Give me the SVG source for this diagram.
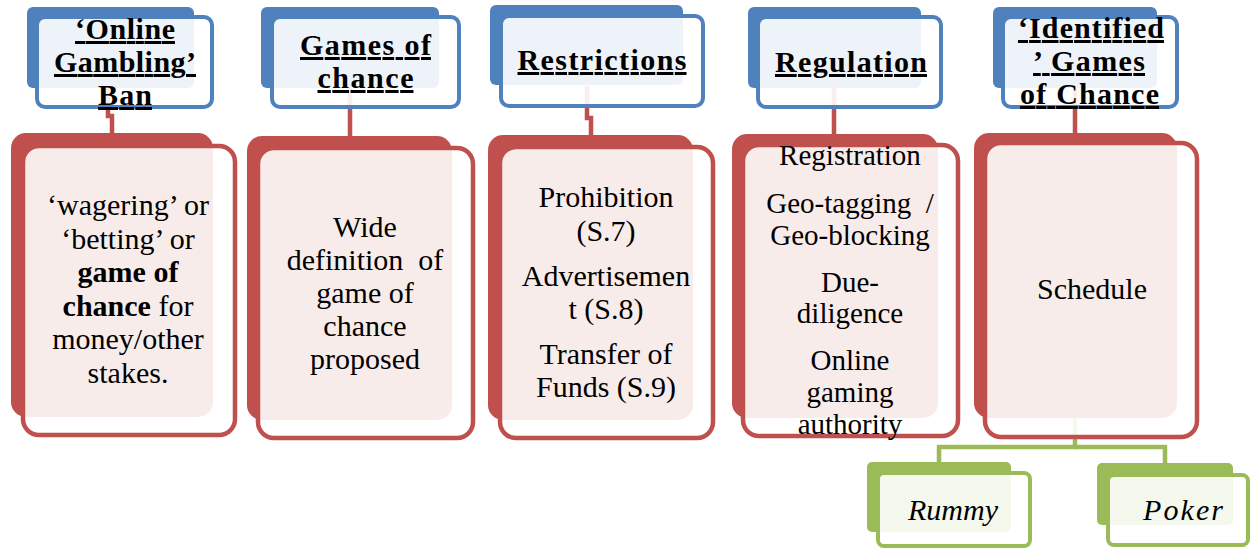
<svg xmlns="http://www.w3.org/2000/svg" width="1250" height="548" viewBox="0 0 1250 548" font-family="Liberation Serif, serif">
<style>
.hb{fill:#4F81BD}
.hf{fill:#fff;fill-opacity:.9;stroke:#4F81BD;stroke-width:4}
.bb{fill:#C0504D}
.bf{fill:#fff;fill-opacity:.89;stroke:#C0504D;stroke-width:4.5}
.gb{fill:#9BBB59}
.gf{fill:#fff;fill-opacity:.89;stroke:#9BBB59;stroke-width:4}
text{fill:#000;text-anchor:middle}
.ht{font-size:30px;font-weight:bold;text-decoration:underline}
.bt{font-size:30px}
.b4{font-size:29px}
.it{font-style:italic}
.bold{font-weight:bold}
.red{fill:none;stroke:#C0504D;stroke-width:4.5}
.grn{fill:none;stroke:#9BBB59;stroke-width:4.5}
</style>
<g id="connectors">
<path class="red" d="M108,88 V116 H112 V136"/>
<path class="red" d="M350,88 V138"/>
<path class="red" d="M587,86 V118 H591 V137"/>
<path class="red" d="M834,88 V136"/>
<path class="red" d="M1075,88 V135"/>
<path class="grn" d="M1075,418 V447 H939 V464"/>
<path class="grn" d="M1075,447 H1165 V465"/>
</g>
<g id="h1">
<rect class="hb" x="27" y="7" width="167" height="81" rx="6"/>
<rect class="hf" x="37" y="17" width="175" height="90" rx="8"/>
<text class="ht" x="125" y="39" textLength="100" lengthAdjust="spacing">‘Online</text>
<text class="ht" x="125" y="72" textLength="142" lengthAdjust="spacing">Gambling’</text>
<text class="ht" x="125" y="105" textLength="54" lengthAdjust="spacing">Ban</text>
</g>
<g id="h2">
<rect class="hb" x="261" y="7" width="178" height="81" rx="6"/>
<rect class="hf" x="272" y="17" width="187" height="90" rx="8"/>
<text class="ht" x="365.5" y="55" textLength="131" lengthAdjust="spacing">Games of</text>
<text class="ht" x="365.5" y="88" textLength="96" lengthAdjust="spacing">chance</text>
</g>
<g id="h3">
<rect class="hb" x="490" y="5" width="193" height="80" rx="6"/>
<rect class="hf" x="501" y="16" width="202" height="90" rx="8"/>
<text class="ht" x="602" y="70" textLength="169" lengthAdjust="spacing">Restrictions</text>
</g>
<g id="h4">
<rect class="hb" x="748" y="7" width="173" height="81" rx="6"/>
<rect class="hf" x="758" y="17" width="183" height="90" rx="8"/>
<text class="ht" x="851" y="72" textLength="152" lengthAdjust="spacing">Regulation</text>
</g>
<g id="h5">
<rect class="hb" x="993" y="7" width="164" height="81" rx="6"/>
<rect class="hf" x="1003" y="17" width="174" height="90" rx="8"/>
<text class="ht" x="1091" y="38" textLength="146" lengthAdjust="spacing">‘Identified</text>
<text class="ht" x="1089" y="71" textLength="112" lengthAdjust="spacing">’ Games</text>
<text class="ht" x="1089.5" y="104" textLength="139" lengthAdjust="spacing">of Chance</text>
</g>
<g id="b1">
<rect class="bb" x="11" y="133" width="202" height="284" rx="15"/>
<rect class="bf" x="23" y="146" width="212" height="289" rx="16"/>
<text class="bt" x="128" y="215">‘wagering’ or</text>
<text class="bt" x="128" y="249">‘betting’ or</text>
<text class="bt bold" x="128" y="282">game of</text>
<text class="bt" x="128" y="316"><tspan class="bold">chance</tspan> for</text>
<text class="bt" x="128" y="349">money/other</text>
<text class="bt" x="128" y="383">stakes.</text>
</g>
<g id="b2">
<rect class="bb" x="247" y="136" width="205" height="284" rx="15"/>
<rect class="bf" x="258" y="148" width="215" height="290" rx="16"/>
<text class="bt" x="365" y="237">Wide</text>
<text class="bt" x="365" y="270" xml:space="preserve">definition  of</text>
<text class="bt" x="365" y="303">game of</text>
<text class="bt" x="365" y="336">chance</text>
<text class="bt" x="365" y="369">proposed</text>
</g>
<g id="b3">
<rect class="bb" x="488" y="135" width="205" height="285" rx="15"/>
<rect class="bf" x="500" y="147" width="213" height="291" rx="16"/>
<text class="bt" x="606" y="207">Prohibition</text>
<text class="bt" x="606" y="241">(S.7)</text>
<text class="bt" x="606" y="286">Advertisemen</text>
<text class="bt" x="606" y="319">t (S.8)</text>
<text class="bt" x="606" y="364">Transfer of</text>
<text class="bt" x="606" y="397">Funds (S.9)</text>
</g>
<g id="b4">
<rect class="bb" x="732" y="134" width="206" height="284" rx="15"/>
<rect class="bf" x="743" y="145" width="215" height="291" rx="16"/>
<text class="bt b4" x="850" y="165">Registration</text>
<text class="bt b4" x="850" y="213" xml:space="preserve">Geo-tagging  /</text>
<text class="bt b4" x="850" y="245">Geo-blocking</text>
<text class="bt b4" x="850" y="292">Due-</text>
<text class="bt b4" x="850" y="323">diligence</text>
<text class="bt b4" x="850" y="370">Online</text>
<text class="bt b4" x="850" y="402">gaming</text>
<text class="bt b4" x="850" y="434">authority</text>
</g>
<g id="b5">
<rect class="bb" x="974" y="133" width="203" height="285" rx="15"/>
<rect class="bf" x="985" y="143" width="212" height="294" rx="16"/>
<text class="bt" x="1092" y="299">Schedule</text>
</g>
<g id="g1">
<rect class="gb" x="867" y="462" width="144" height="70" rx="5"/>
<rect class="gf" x="878" y="473" width="152" height="73" rx="6"/>
<text class="bt it" x="953" y="520">Rummy</text>
</g>
<g id="g2">
<rect class="gb" x="1097" y="463" width="136" height="62" rx="5"/>
<rect class="gf" x="1108" y="475" width="140" height="70" rx="6"/>
<text class="bt it" x="1183" y="520" textLength="80" lengthAdjust="spacing">Poker</text>
</g>
</svg>
